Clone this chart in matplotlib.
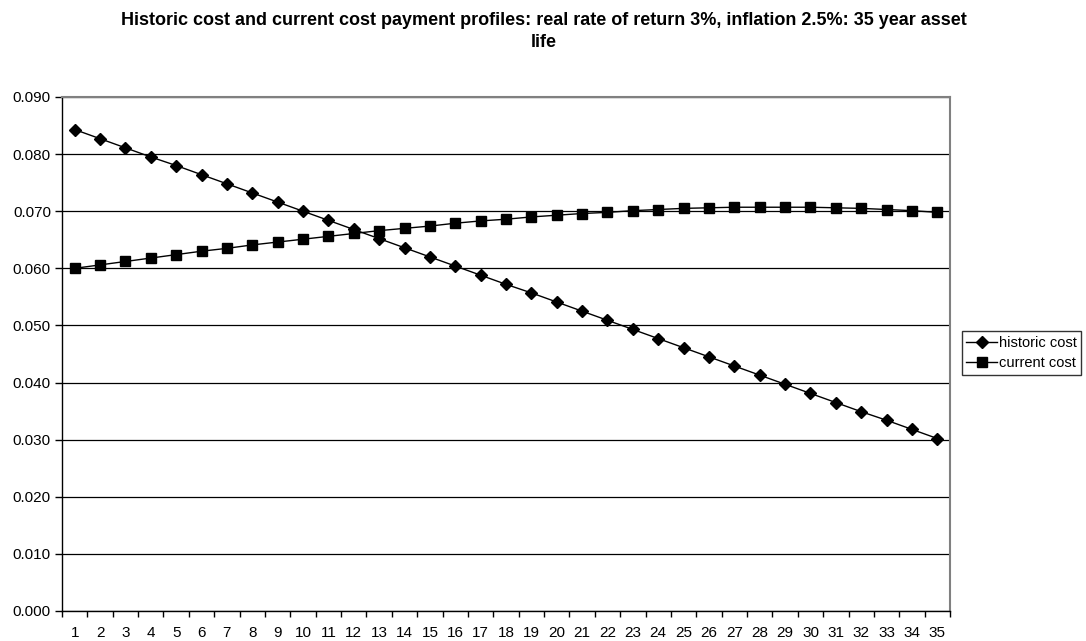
import matplotlib
matplotlib.use('Agg')
import matplotlib.pyplot as plt
import numpy as np
from matplotlib.ticker import FixedLocator, FormatStrFormatter

plt.rcParams['font.family'] = ['Liberation Sans', 'DejaVu Sans']

years = list(range(1, 36))
historic_cost = [0.0843, 0.0827, 0.0811, 0.0795, 0.0780, 0.0764, 0.0748, 0.0732,
                 0.0716, 0.0700, 0.0684, 0.0668, 0.0652, 0.0636, 0.0620, 0.0604,
                 0.0588, 0.0572, 0.0557, 0.0541, 0.0525, 0.0509, 0.0493, 0.0477,
                 0.0461, 0.0445, 0.0429, 0.0413, 0.0397, 0.0381, 0.0365, 0.0349,
                 0.0334, 0.0318, 0.0302]
current_cost = [0.0600, 0.0606, 0.0612, 0.0618, 0.0624, 0.0630, 0.0635, 0.0641,
                0.0646, 0.0651, 0.0656, 0.0661, 0.0666, 0.0670, 0.0674, 0.0679,
                0.0683, 0.0686, 0.0690, 0.0693, 0.0696, 0.0698, 0.0701, 0.0703,
                0.0705, 0.0706, 0.0707, 0.0707, 0.0707, 0.0707, 0.0706, 0.0705,
                0.0703, 0.0701, 0.0698]
title = ('Historic cost and current cost payment profiles: real rate of return 3%, '
         'inflation 2.5%: 35 year asset\nlife')

fig = plt.figure(figsize=(10.86, 6.41), dpi=100)
ax = fig.add_axes([62/1086, 1-611/641, (950-62)/1086, (611-97)/641])

ax.plot(years, historic_cost, color='black', lw=1, marker='D', ms=6,
        label='historic cost')
ax.plot(years, current_cost, color='black', lw=1, marker='s', ms=6.5,
        label='current cost')

ax.set_xlim(0.5, 35.5)
ax.set_ylim(0, 0.09)
ax.set_yticks(np.arange(0, 0.0901, 0.01))
ax.yaxis.set_major_formatter(FormatStrFormatter('%.3f'))
ax.set_xticks(years)
ax.xaxis.set_minor_locator(FixedLocator(np.arange(0.5, 36, 1)))
ax.tick_params(axis='x', which='major', length=0, pad=11, labelsize=11)
ax.tick_params(axis='x', which='minor', length=4, width=1, direction='out')
ax.tick_params(axis='y', length=5, width=1, direction='out', labelsize=11, pad=3)

ax.grid(axis='y', color='black', lw=0.9)
ax.set_axisbelow(True)
for s in ['top', 'right']:
    ax.spines[s].set_color('#808080')
    ax.spines[s].set_linewidth(1.5)
for s in ['left', 'bottom']:
    ax.spines[s].set_color('black')
    ax.spines[s].set_linewidth(1)

fig.text(544/1086, 1-12/641, title, ha='center', va='top', fontsize=13,
         fontweight='bold', linespacing=1.4)

leg = ax.legend(loc='center left', bbox_to_anchor=(962/1086, 1-353/641),
                bbox_transform=fig.transFigure, borderaxespad=0, fontsize=10.5,
                frameon=True, fancybox=False, handlelength=2.1, handletextpad=0.15,
                borderpad=0.3, labelspacing=0.45)
leg.get_frame().set_edgecolor('black')
leg.get_frame().set_linewidth(1)

fig.savefig('out.png', dpi=100)
